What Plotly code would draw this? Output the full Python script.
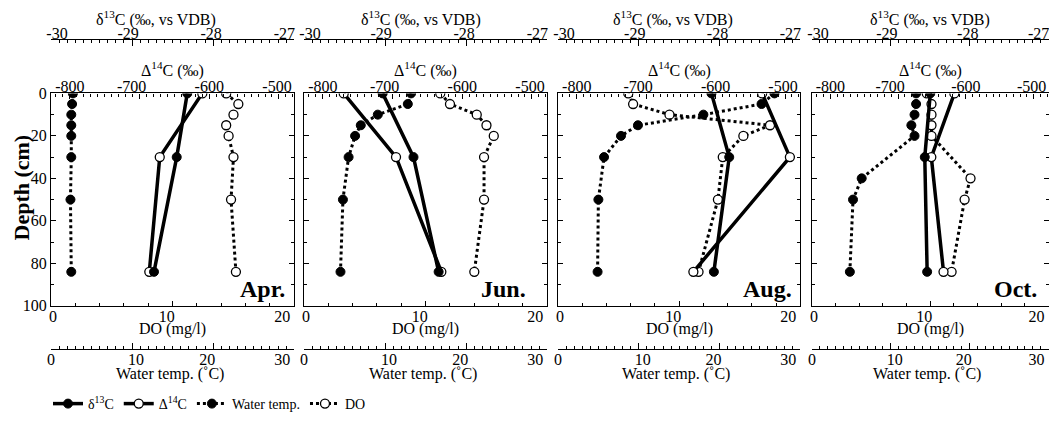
import plotly.graph_objects as go

# ---------------- data ----------------
months = ["Apr.", "Jun.", "Aug.", "Oct."]

depth_iso = [0, 30, 84]                       # depths of isotope samples (cm)
depth_std = [0, 5, 10, 15, 20, 30, 50, 84]    # profile depths Apr/Jun/Aug (cm)
depth_oct = [0, 5, 10, 15, 20, 40, 50, 84]    # profile depths Oct (cm)

d13c_apr = [-28.32, -28.45, -28.73]
d13c_jun = [-29.03, -28.65, -28.34]
d13c_aug = [-28.10, -27.88, -28.07]
d13c_oct = [-28.50, -28.57, -28.54]

d14c_apr = [-610, -671, -686]
d14c_jun = [-770, -695, -630]
d14c_aug = [-533, -493, -632]
d14c_oct = [-617, -651, -633]

temp_apr = [2.7, 2.6, 2.5, 2.5, 2.5, 2.5, 2.4, 2.5]
temp_jun = [13.2, 12.8, 9.1, 7.0, 6.3, 5.5, 4.8, 4.5]
temp_aug = [26.8, 25.2, 18.0, 9.9, 7.8, 5.7, 5.0, 4.9]
temp_oct = [13.2, 13.2, 13.0, 12.6, 13.0, 6.3, 5.2, 4.8]

do_apr = [14.4, 15.4, 15.0, 14.4, 14.6, 15.0, 14.8, 15.2]
do_jun = [11.2, 12.0, 14.2, 15.0, 15.6, 14.8, 14.8, 14.0]
do_aug = [5.8, 6.2, 9.2, 17.5, 15.3, 13.6, 13.2, 11.6]
do_oct = [9.7, 10.1, 10.1, 10.1, 10.1, 13.4, 12.9, 11.8]

# tick values of the x and y scales
d13c_ticks = [-30, -29, -28, -27]
d14c_ticks = [-800, -700, -600, -500]
do_ticks = [0, 10, 20]
temp_ticks = [0, 10, 20, 30]
depth_ticks = [0, 20, 40, 60, 80, 100]

panel_data = [
    (d13c_apr, d14c_apr, temp_apr, do_apr, depth_std),
    (d13c_jun, d14c_jun, temp_jun, do_jun, depth_std),
    (d13c_aug, d14c_aug, temp_aug, do_aug, depth_std),
    (d13c_oct, d14c_oct, temp_oct, do_oct, depth_oct),
]

# ---------------- layout geometry ----------------
FONT = "Liberation Serif"
OFF = 8                       # page body margin of the browser
W, H = 1057 - 2 * OFF, 421 - 2 * OFF
TOP_PX, BOT_PX = 39 - OFF, 349 - OFF
PH = BOT_PX - TOP_PX
NB = "\u00a0"


def fy(px):
    return (BOT_PX - px) / PH


BOX_TOP, BOX_BOT = 93.4 - OFF, 305.8 - OFF
panels_px = [(51 - OFF, 294.3 - OFF), (304 - OFF, 547.3 - OFF),
             (558 - OFF, 800.3 - OFF), (812 - OFF, 1048.6 - OFF)]
month_x = [0.969, 0.921, 0.973, 0.961]
d13_title_dx = [-17, -5, -6, 0]


def labels(vals, shifts):
    """Tick texts; a label is nudged sideways (as in the original figure) with
    non-breaking spaces: positive -> leading spaces, negative -> trailing spaces."""
    out = []
    for v, s in zip(vals, shifts):
        t = f"{v:g}"
        out.append(NB * s + t if s > 0 else t + NB * (-s))
    return out


def xref(k):
    return "x" if k == 1 else f"x{k}"


def xkey(k):
    return "xaxis" if k == 1 else f"xaxis{k}"


def yref(k):
    return "y" if k == 1 else f"y{k}"


def ykey(k):
    return "yaxis" if k == 1 else f"yaxis{k}"


fig = go.Figure()

for p, (d13, d14, tmp, do, dprof) in enumerate(panel_data):
    xb = 4 * p + 1
    yk = p + 1
    show = p == 0
    # delta13C : solid line, filled circles
    fig.add_trace(go.Scatter(
        x=d13, y=depth_iso, xaxis=xref(xb + 2), yaxis=yref(yk),
        mode="lines+markers", name="δ<sup>13</sup>C", showlegend=show, legendrank=1,
        line=dict(color="black", width=3.5),
        marker=dict(symbol="circle", size=9, color="black", line=dict(color="black", width=1))))
    # Delta14C : solid line, open circles
    fig.add_trace(go.Scatter(
        x=d14, y=depth_iso, xaxis=xref(xb + 1), yaxis=yref(yk),
        mode="lines+markers", name="Δ<sup>14</sup>C", showlegend=show, legendrank=2,
        line=dict(color="black", width=3.5),
        marker=dict(symbol="circle", size=9, color="white", line=dict(color="black", width=1.3))))
    # Water temperature : dotted line, filled circles
    fig.add_trace(go.Scatter(
        x=tmp, y=dprof, xaxis=xref(xb + 3), yaxis=yref(yk),
        mode="lines+markers", name="Water temp.", showlegend=show, legendrank=3,
        line=dict(color="black", width=3, dash="dot"),
        marker=dict(symbol="circle", size=9, color="black", line=dict(color="black", width=1))))
    # DO : dotted line, open circles
    fig.add_trace(go.Scatter(
        x=do, y=dprof, xaxis=xref(xb), yaxis=yref(yk),
        mode="lines+markers", name="DO", showlegend=show, legendrank=4,
        line=dict(color="black", width=3, dash="dot"),
        marker=dict(symbol="circle", size=9, color="white", line=dict(color="black", width=1.3))))

tickfont = dict(family=FONT, size=16, color="black")
titlefont = dict(family=FONT, size=16, color="black")
common = dict(showline=True, linecolor="black", linewidth=1.2, ticks="inside",
              tickcolor="black", tickwidth=1.2, showgrid=False, zeroline=False,
              tickfont=tickfont, automargin=False, ticklabeloverflow="allow")
LSO_BOT = -4  # pull tick labels towards the axis line
LSO_TOP = -6


def minor(t0, dt):
    return dict(tickmode="linear", tick0=t0, dtick=dt, ticks="inside", ticklen=3,
                tickcolor="black", tickwidth=1)


layout_axes = {}
annotations = []


def add_title(text, xpx, ypx):
    annotations.append(dict(text=text, xref="paper", yref="paper", x=xpx / W, y=fy(ypx),
                            xanchor="center", yanchor="middle", showarrow=False,
                            font=titlefont))


for p in range(4):
    x0, x1 = panels_px[p]
    xc = (x0 + x1) / 2
    dom = [x0 / W, x1 / W]
    xb = 4 * p + 1
    yk = p + 1
    # DO axis (bottom of box)
    layout_axes[xkey(xb)] = dict(
        common, domain=dom, anchor=yref(yk), side="bottom", range=[0, 20],
        tickmode="array", tickvals=do_ticks, ticktext=labels(do_ticks, [1, -3, -6]),
        ticklen=5, ticklabelstandoff=LSO_BOT, minor=minor(0, 2))
    # Delta14C axis (top of box)
    layout_axes[xkey(xb + 1)] = dict(
        common, overlaying=xref(xb), anchor=yref(yk), side="top", range=[-827, -478],
        tickmode="array", tickvals=d14c_ticks, ticktext=labels(d14c_ticks, [0, -4, 0, -1]),
        ticklen=5, ticklabelstandoff=LSO_TOP, minor=minor(-800, 10))
    # delta13C axis (free, top)
    layout_axes[xkey(xb + 2)] = dict(
        common, overlaying=xref(xb), anchor="free", position=1.0, side="top", range=[-30, -27],
        tickmode="array", tickvals=d13c_ticks, ticktext=labels(d13c_ticks, [3, -2, -1, -5]),
        ticklen=6, ticklabelstandoff=LSO_TOP, minor=minor(-30, 0.1))
    # Water temperature axis (free, bottom)
    layout_axes[xkey(xb + 3)] = dict(
        common, overlaying=xref(xb), anchor="free", position=0.0, side="bottom", range=[0, 30],
        tickmode="array", tickvals=temp_ticks, ticktext=labels(temp_ticks, [0, 2, -3, -6]),
        ticklen=6, ticklabelstandoff=LSO_BOT, minor=minor(0, 1))
    # Depth axis
    layout_axes[ykey(yk)] = dict(
        common, domain=[fy(BOX_BOT), fy(BOX_TOP)], anchor=xref(xb), range=[100, 0],
        tickmode="array", tickvals=depth_ticks, ticklen=5, mirror="ticks",
        showticklabels=(p == 0), minor=minor(0, 10))

    # axis titles
    add_title("δ<sup>13</sup>C (‰, vs VDB)", xc + d13_title_dx[p], 18 - OFF)
    add_title("Δ<sup>14</sup>C (‰)", xc, 69 - OFF)
    add_title("DO (mg/l)", xc, 329 - OFF)
    add_title("Water temp. (˚C)", xc - 3, 374 - OFF)

    annotations.append(dict(
        text=f"<b>{months[p]}</b>", xref=f"{xref(xb)} domain", yref=f"{yref(yk)} domain",
        x=month_x[p], y=0.08, xanchor="right", yanchor="middle", showarrow=False,
        font=dict(family=FONT, size=24, color="black")))

annotations.append(dict(
    text="<b>Depth (cm)</b>", xref="paper", yref="paper", x=(21.5 - OFF) / W, y=fy(188 - OFF),
    xanchor="center", yanchor="middle", textangle=-90, showarrow=False,
    font=dict(family=FONT, size=22, color="black")))

fig.update_layout(
    width=W, height=H,
    margin=dict(l=0, r=0, t=TOP_PX, b=H - BOT_PX, pad=0, autoexpand=False),
    paper_bgcolor="white", plot_bgcolor="white",
    font=dict(family=FONT, size=16, color="black"),
    showlegend=True,
    legend=dict(orientation="h", x=40 / W, y=fy(404 - OFF), xanchor="left", yanchor="middle",
                font=dict(family=FONT, size=14, color="black"), bgcolor="rgba(0,0,0,0)",
                itemwidth=30, tracegroupgap=0),
    annotations=annotations,
    **layout_axes,
)

fig.write_html("out.html")
